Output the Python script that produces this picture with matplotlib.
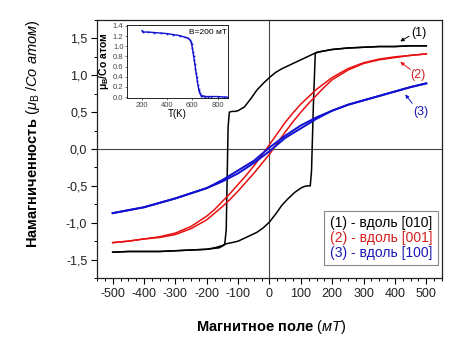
import matplotlib
matplotlib.use("Agg")
import matplotlib.pyplot as plt
from matplotlib.lines import Line2D

plt.rcParams["font.family"] = ["Liberation Sans", "DejaVu Sans"]
plt.rcParams["mathtext.fontset"] = "custom"
plt.rcParams["mathtext.rm"] = "Liberation Sans"
plt.rcParams["mathtext.it"] = "Liberation Sans:italic"
plt.rcParams["mathtext.bf"] = "Liberation Sans:bold"
plt.rcParams["mathtext.default"] = "it"

# (1) along [010]: square loop
h1_down = [500, 450, 400, 350, 300, 250, 200, 175, 150, 140, 120, 100, 80, 60, 40, 20, 0,
           -20, -40, -60, -80, -100, -110, -120, -128, -132, -138, -143, -160, -200, -250,
           -300, -350, -400, -450, -500]
m1_down = [1.40, 1.40, 1.39, 1.39, 1.38, 1.37, 1.35, 1.33, 1.31, 1.29, 1.25, 1.21, 1.17, 1.13,
           1.09, 1.04, 0.97, 0.89, 0.80, 0.68, 0.57, 0.52, 0.51, 0.51, 0.50, 0.30, -1.10, -1.30,
           -1.34, -1.36, -1.37, -1.38, -1.39, -1.39, -1.39, -1.40]
h1_up = [-500, -450, -400, -350, -300, -250, -200, -175, -150, -143, -120, -100, -80, -60, -40,
         -20, 0, 20, 40, 60, 80, 100, 110, 120, 130, 134, 140, 146, 160, 200, 250, 300, 350, 400,
         450, 500]
m1_up = [-1.40, -1.39, -1.39, -1.39, -1.38, -1.37, -1.36, -1.34, -1.31, -1.29, -1.27, -1.25,
         -1.21, -1.17, -1.13, -1.07, -0.99, -0.88, -0.76, -0.67, -0.59, -0.53, -0.51, -0.50,
         -0.50, -0.30, 0.60, 1.30, 1.32, 1.35, 1.37, 1.38, 1.39, 1.39, 1.40, 1.40]

# (2) along [001]
h2_down = [500, 450, 400, 350, 300, 250, 200, 150, 125, 100, 75, 50, 25, 0, -25, -50, -75, -100,
           -125, -150, -175, -200, -250, -300, -350, -400, -450, -500]
m2_down = [1.29, 1.27, 1.25, 1.22, 1.17, 1.09, 0.97, 0.81, 0.71, 0.61, 0.49, 0.36, 0.21, 0.06,
           -0.09, -0.23, -0.36, -0.48, -0.60, -0.71, -0.82, -0.91, -1.05, -1.14, -1.19, -1.22,
           -1.25, -1.27]
h2_up = [-500, -450, -400, -350, -300, -250, -200, -175, -150, -125, -100, -75, -50, -25, 0, 25,
         50, 75, 100, 125, 150, 175, 200, 250, 300, 350, 400, 450, 500]
m2_up = [-1.27, -1.25, -1.22, -1.20, -1.16, -1.08, -0.96, -0.87, -0.78, -0.68, -0.57, -0.45,
         -0.33, -0.20, -0.07, 0.08, 0.23, 0.37, 0.50, 0.62, 0.73, 0.84, 0.94, 1.07, 1.16, 1.21,
         1.24, 1.27, 1.29]

# (3) along [100]
h3_down = [500, 450, 400, 350, 300, 250, 200, 150, 100, 50, 25, 0, -25, -50, -100, -150, -200,
           -250, -300, -350, -400, -450, -500]
m3_down = [0.89, 0.84, 0.78, 0.72, 0.66, 0.60, 0.52, 0.43, 0.32, 0.18, 0.10, 0.02, -0.07, -0.16,
           -0.29, -0.42, -0.53, -0.60, -0.67, -0.73, -0.79, -0.83, -0.87]
h3_up = [-500, -450, -400, -350, -300, -250, -200, -150, -100, -50, -25, 0, 25, 50, 100, 150,
         200, 250, 300, 350, 400, 450, 500]
m3_up = [-0.87, -0.83, -0.79, -0.73, -0.67, -0.60, -0.53, -0.44, -0.33, -0.19, -0.11, -0.03,
         0.06, 0.15, 0.28, 0.41, 0.52, 0.60, 0.66, 0.72, 0.78, 0.84, 0.89]

# inset: M(T) at B = 200 mT
temp_k = [205, 215, 250, 300, 350, 400, 450, 500, 540, 565, 580, 590, 595, 600, 605, 610, 615,
          620, 625, 630, 635, 640, 645, 650, 655, 660, 665, 670, 680, 690, 700, 725, 750, 800,
          850, 870]
m_temp = [1.31, 1.28, 1.28, 1.27, 1.26, 1.25, 1.23, 1.21, 1.18, 1.16, 1.13, 1.09, 1.04, 0.97,
          0.89, 0.81, 0.73, 0.65, 0.56, 0.47, 0.39, 0.31, 0.23, 0.16, 0.11, 0.07, 0.05, 0.03,
          0.02, 0.02, 0.01, 0.01, 0.01, 0.01, 0.00, 0.00]

x_ticks = [-500, -400, -300, -200, -100, 0, 100, 200, 300, 400, 500]
x_tick_labels = ["-500", "-400", "-300", "-200", "-100", "0", "100", "200", "300", "400", "500"]
y_ticks = [-1.5, -1.0, -0.5, 0.0, 0.5, 1.0, 1.5]
y_tick_labels = ["-1,5", "-1,0", "-0,5", "0,0", "0,5", "1,0", "1,5"]

legend_labels = ["(1) - вдоль [010]", "(2) - вдоль [001]", "(3) - вдоль [100]"]
colors = ["#000000", "#e81010", "#1010d0"]
text_colors = ["#000000", "#d42020", "#1a1ab8"]

fig = plt.figure(figsize=(4.65, 3.37), dpi=100)
ax = fig.add_axes([0.2086, 0.175, 0.7419, 0.7657])

ax.axhline(0, color="#444444", lw=0.8, zorder=1)
ax.axvline(0, color="#444444", lw=0.8, zorder=1)

ax.plot(h1_down, m1_down, color=colors[0], lw=1.1)
ax.plot(h1_up, m1_up, color=colors[0], lw=1.1)
ax.plot(h2_down, m2_down, color=colors[1], lw=1.1)
ax.plot(h2_up, m2_up, color=colors[1], lw=1.1)
ax.plot(h3_down, m3_down, color=colors[2], lw=1.4)
ax.plot(h3_up, m3_up, color=colors[2], lw=1.4)

ax.set_xlim(-550, 550)
ax.set_ylim(-1.75, 1.75)
ax.set_xticks(x_ticks)
ax.set_xticklabels(x_tick_labels)
ax.set_yticks(y_ticks)
ax.set_yticklabels(y_tick_labels)
ax.set_xticks(range(-550, 551, 25), minor=True)
ax.set_yticks([-1.75, -1.25, -0.75, -0.25, 0.25, 0.75, 1.25, 1.75], minor=True)
ax.tick_params(which="major", direction="out", length=4, width=0.8, labelsize=9, pad=3,
               labelcolor="#222222")
ax.tick_params(which="minor", direction="out", length=2, width=0.7)
for s in ax.spines.values():
    s.set_linewidth(0.9)
    s.set_color("#222222")

ax.set_xlabel("Магнитное поле $(мТ)$", fontsize=10.5, fontweight="bold")
ax.xaxis.set_label_coords(0.504, -0.155)
ax.set_ylabel(r"Намагниченность $(\mu_{\mathrm{B}}\ /Co\ атом)$", fontsize=10.5,
              fontweight="bold")
ax.yaxis.set_label_coords(-0.16, 0.56)

# curve tags with short arrows
arrow = dict(arrowstyle="-|>", lw=0.7, mutation_scale=5, shrinkA=0, shrinkB=0)
ax.annotate("", xy=(417, 1.46), xytext=(445, 1.53), arrowprops=dict(arrow, color=colors[0]))
ax.text(476, 1.58, "(1)", color=text_colors[0], fontsize=9, ha="center", va="center")
ax.annotate("", xy=(417, 1.18), xytext=(449, 1.08), arrowprops=dict(arrow, color=colors[1]))
ax.text(474, 1.0, "(2)", color=text_colors[1], fontsize=9, ha="center", va="center")
ax.annotate("", xy=(433, 0.74), xytext=(455, 0.62), arrowprops=dict(arrow, color=colors[2]))
ax.text(483, 0.50, "(3)", color=text_colors[2], fontsize=9, ha="center", va="center")

handles = [Line2D([], [], color=c, lw=0) for c in colors]
leg = ax.legend(handles, legend_labels, loc="lower right", bbox_to_anchor=(0.988, 0.05),
                borderaxespad=0, fontsize=10, handlelength=0, handletextpad=0,
                fancybox=False, framealpha=1, edgecolor="#888888", labelspacing=0.05,
                borderpad=0.4)
leg.get_frame().set_linewidth(0.8)
for t, c in zip(leg.get_texts(), text_colors):
    t.set_color(c)

# inset: temperature dependence
ins = fig.add_axes([0.273, 0.709, 0.217, 0.217])
ins.plot(temp_k, m_temp, color="#1010d0", lw=1.0, marker="s", ms=1.2, mec="none")
ins.set_xlim(85, 880)
ins.set_ylim(-0.02, 1.42)
ins.set_xticks([200, 400, 600, 800])
ins.set_yticks([0.0, 0.2, 0.4, 0.6, 0.8, 1.0, 1.2, 1.4])
ins.set_yticklabels(["0.0", "0.2", "0.4", "0.6", "0.8", "1.0", "1.2", "1.4"])
ins.tick_params(direction="out", length=1.5, width=0.5, labelsize=5.5, pad=1,
                colors="#444444")
for s in ins.spines.values():
    s.set_linewidth(0.6)
ins.set_xlabel("T(K)", fontsize=7, labelpad=0)
ins.set_ylabel("μ$_\\mathregular{B}$/Co атом", fontsize=7.5, fontweight="bold", labelpad=1)
ins.text(0.80, 0.90, "B=200 мТ", transform=ins.transAxes, fontsize=6, ha="center",
         va="center")

fig.savefig("out.png", dpi=100)
